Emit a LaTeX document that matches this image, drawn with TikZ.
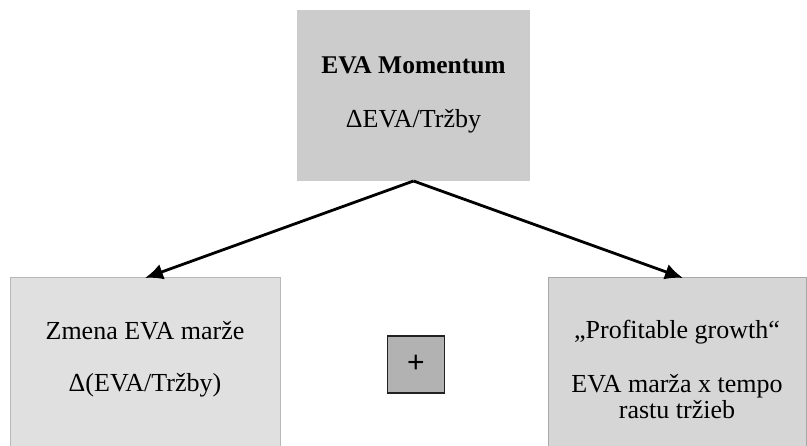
\documentclass[tikz,border=0pt]{standalone}
\usepackage{fontspec}
\setmainfont{Liberation Serif}
\newfontfamily\plusfont{Liberation Sans}
\usetikzlibrary{arrows.meta}
\definecolor{topfill}{HTML}{CCCCCC}
\definecolor{leftfill}{HTML}{E0E0E0}
\definecolor{leftline}{HTML}{B8B8B8}
\definecolor{rightfill}{HTML}{D6D6D6}
\definecolor{rightline}{HTML}{A8A8A8}
\definecolor{plusfill}{HTML}{B2B2B2}
\definecolor{plusline}{HTML}{222222}
\begin{document}
\begin{tikzpicture}[x=1pt,y=-1pt,
  box/.style={rectangle,inner sep=0pt,outer sep=0pt,line width=1pt},
  txt/.style={anchor=base,inner sep=0pt,font=\fontsize{26}{30}\selectfont},
  conn/.style={line width=2.8pt,-{Latex[length=18pt,width=16pt]}}]
\useasboundingbox (0,0) rectangle (807,446);
\node[box,fill=topfill,minimum width=233pt,minimum height=171pt] (top) at (413.5,95.5) {};
\node[box,fill=leftfill,draw=leftline,minimum width=270pt,minimum height=172pt] (left) at (145,364) {};
\node[box,fill=rightfill,draw=rightline,minimum width=258pt,minimum height=172pt] (right) at (677,364) {};
\node[box,fill=plusfill,draw=plusline,line width=1.5pt,minimum width=57pt,minimum height=57pt] (plus) at (416,364.5) {};
\node[inner sep=0pt,font=\plusfont\fontsize{30}{34}\selectfont] (plustxt) at (416,364) {+};
\node[txt,font=\fontsize{25.5}{29}\selectfont\bfseries] (t1) at (413.5,74) {EVA Momentum};
\node[txt] (t2) at (413.5,128) {ΔEVA/Tržby};
\node[txt] (l1) at (145,340) {Zmena EVA marže};
\node[txt] (l2) at (145,392) {Δ(EVA/Tržby)};
\node[txt] (r1) at (677,339) {„Profitable growth“};
\node[txt] (r2) at (677,393) {EVA marža x tempo};
\node[txt] (r3) at (677,419) {rastu tržieb};
\draw[conn] (top.south) -- (left.north);
\draw[conn] (top.south) -- ([xshift=6pt]right.north);
\end{tikzpicture}
\end{document}
